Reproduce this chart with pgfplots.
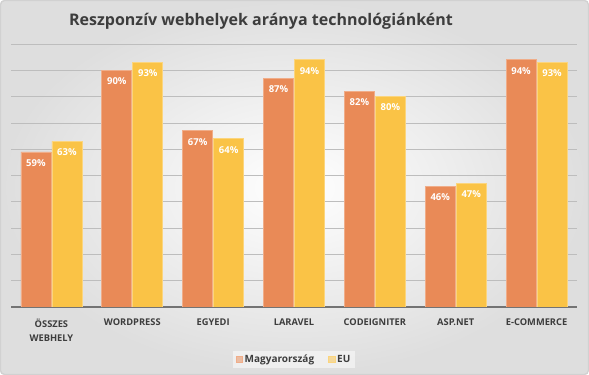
\documentclass[border=0pt]{standalone}
\usepackage{pgfplots}
\pgfplotsset{compat=1.18}
\usepackage{fontspec}
\setmainfont{Open Sans}
\definecolor{hu}{HTML}{E98A57}
\definecolor{eu}{HTML}{FAC346}
\definecolor{txt}{HTML}{3D3D3D}
\definecolor{gridc}{HTML}{BDBDBD}
\begin{document}
\begin{tikzpicture}
\shade[rounded corners=4bp, inner color=white, outer color=black!13] (0,0) rectangle (589bp,375bp);
\draw[black!18, line width=1.2bp, rounded corners=4bp] (0.6bp,0.6bp) rectangle (588.4bp,374.4bp);
\node[font=\fontsize{16bp}{19bp}\selectfont\bfseries, text=txt] at (261bp,354bp) {Reszponzív webhelyek aránya technológiánként};
\begin{axis}[
  at={(11bp,68bp)}, anchor=south west,
  scale only axis, width=566bp, height=263bp,
  ybar=1bp, bar width=30bp,
  xmin=-0.5, xmax=6.5, ymin=0, ymax=100,
  axis line style={draw=none},
  xtick=data,
  xticklabels={{ÖSSZES\\WEBHELY},WORDPRESS,EGYEDI,LARAVEL,CODEIGNITER,ASP.NET,E-COMMERCE},
  xticklabel style={font=\fontsize{9.3bp}{14bp}\selectfont\bfseries, text=txt, align=center, yshift=-8bp},
  ytick={10,20,...,100}, yticklabels={},
  ymajorgrids, grid style={gridc, line width=0.7bp},
  extra y ticks={0}, extra y tick labels={},
  extra y tick style={grid style={black!55, line width=1.6bp}},
  major tick length=0,
  /pgf/number format/assume math mode=true,
  nodes near coords={\pgfmathprintnumber{\pgfplotspointmeta}\%},
  nodes near coords style={font=\fontsize{9.5bp}{11bp}\selectfont\bfseries, text=white, anchor=center, yshift=-11bp},
  legend style={at={(0.5,-0.20)}, anchor=center, draw=none, fill=white, fill opacity=0.5, text opacity=1,
    legend columns=2, font=\fontsize{10bp}{11bp}\selectfont\bfseries, text=txt,
    /tikz/every even column/.append style={column sep=12bp}},
  legend image code/.code={\fill[#1] (0bp,-3bp) rectangle (6.5bp,3.5bp);},
]
\addplot[fill=hu, draw=hu!70!white, line width=0.6bp] coordinates {(0,59) (1,90) (2,67) (3,87) (4,82) (5,46) (6,94)};
\addplot[fill=eu, draw=eu!70!white, line width=0.6bp] coordinates {(0,63) (1,93) (2,64) (3,94) (4,80) (5,47) (6,93)};
\legend{Magyarország, EU}
\end{axis}
\end{tikzpicture}
\end{document}
